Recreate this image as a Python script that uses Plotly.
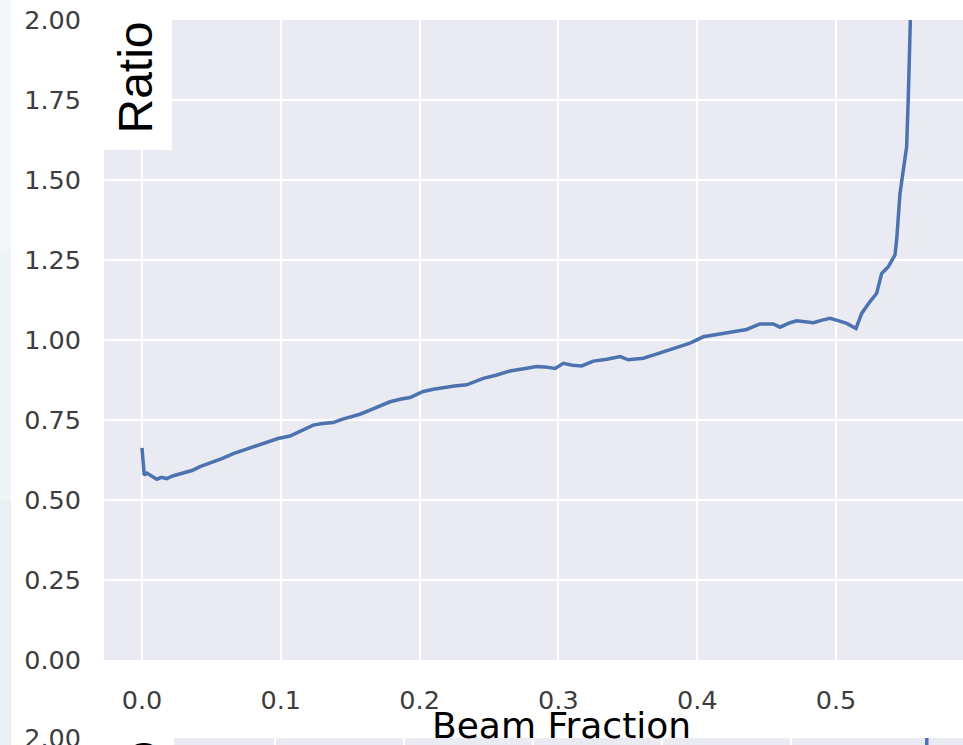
import plotly.graph_objects as go

# ---------------- data ----------------
beam_fraction = [
    0.0000, 0.0005, 0.0012, 0.0016, 0.0035, 0.0058, 0.0085, 0.0106, 0.0140, 0.0178,
    0.0220, 0.0260, 0.0298, 0.0360, 0.0418, 0.0520, 0.0580, 0.0658, 0.0780, 0.0898,
    0.0980, 0.1066, 0.1150, 0.1234, 0.1300, 0.1378, 0.1440, 0.1499, 0.1570, 0.1643,
    0.1720, 0.1787, 0.1860, 0.1931, 0.1980, 0.2027, 0.2100, 0.2171, 0.2250, 0.2339,
    0.2400, 0.2459, 0.2550, 0.2651, 0.2750, 0.2844, 0.2900, 0.2976, 0.3036, 0.3100,
    0.3168, 0.3252, 0.3350, 0.3444, 0.3504, 0.3612, 0.3700, 0.3804, 0.3880, 0.3948,
    0.4044, 0.4140, 0.4236, 0.4356, 0.4452, 0.4548, 0.4597, 0.4669, 0.4717, 0.4837,
    0.4900, 0.4957, 0.5020, 0.5077, 0.5144, 0.5185, 0.5245, 0.5293, 0.5329, 0.5377,
    0.5425, 0.5437, 0.5461, 0.5490, 0.5509, 0.5521, 0.5533, 0.5540, 0.5548,
]
ratio = [
    0.663, 0.640, 0.600, 0.578, 0.584, 0.578, 0.571, 0.565, 0.571, 0.567,
    0.575, 0.580, 0.586, 0.592, 0.604, 0.620, 0.630, 0.645, 0.663, 0.680,
    0.692, 0.700, 0.716, 0.734, 0.739, 0.742, 0.752, 0.758, 0.768, 0.781,
    0.796, 0.807, 0.815, 0.820, 0.830, 0.839, 0.846, 0.852, 0.856, 0.860,
    0.870, 0.880, 0.890, 0.903, 0.910, 0.917, 0.916, 0.911, 0.927, 0.921,
    0.919, 0.934, 0.940, 0.948, 0.938, 0.943, 0.955, 0.969, 0.980, 0.990,
    1.010, 1.017, 1.023, 1.033, 1.050, 1.050, 1.040, 1.054, 1.060, 1.054,
    1.062, 1.068, 1.060, 1.052, 1.036, 1.083, 1.120, 1.146, 1.208, 1.229,
    1.266, 1.3125, 1.458, 1.542, 1.604, 1.760, 1.906, 2.000, 2.200,
]

x_ticks = [0.0, 0.1, 0.2, 0.3, 0.4, 0.5]
x_tick_labels = ["0.0", "0.1", "0.2", "0.3", "0.4", "0.5"]
y_ticks = [0.0, 0.25, 0.5, 0.75, 1.0, 1.25, 1.5, 1.75, 2.0]
y_tick_labels = ["0.00", "0.25", "0.50", "0.75", "1.00", "1.25", "1.50", "1.75", "2.00"]

# lower (cropped) panel
lower_beam_fraction = [0.6050, 0.6056]
lower_ratio = [1.90, 2.10]
lower_y_ticks = [1.9999]
lower_y_tick_labels = ["2.00"]

# ---------------- layout helpers ----------------
W, H = 963, 745
def px(x):
    return x / W
def py(y):
    return (H - y) / H

BLUE = "#4C72B0"
BG = "#EAEAF2"
TICK_FONT = dict(family="DejaVu Sans", size=25.5, color="#3d3d3d")

fig = go.Figure()
fig.add_trace(go.Scatter(x=beam_fraction, y=ratio, mode="lines",
                         line=dict(color=BLUE, width=3.5), xaxis="x", yaxis="y",
                         showlegend=False, hoverinfo="skip"))
fig.add_trace(go.Scatter(x=lower_beam_fraction, y=lower_ratio, mode="lines",
                         line=dict(color=BLUE, width=3.5), xaxis="x2", yaxis="y2",
                         showlegend=False, hoverinfo="skip"))

axis_common = dict(showgrid=True, gridcolor="white", gridwidth=2, zeroline=False,
                   showline=False, ticks="", tickfont=TICK_FONT, automargin=False,
                   ticklabeloverflow="allow")

fig.update_layout(
    template="none",
    width=W, height=H, autosize=False,
    margin=dict(l=0, r=0, t=0, b=0, pad=0, autoexpand=False),
    paper_bgcolor="white", plot_bgcolor=BG,
    xaxis=dict(domain=[px(104), 1], range=[(104 - 142) / 1388, (963 - 142) / 1388],
               tickvals=x_ticks, ticktext=x_tick_labels, anchor="y",
               ticklabelstandoff=22, **axis_common),
    yaxis=dict(domain=[py(660), py(20)], range=[0, 2], tickvals=y_ticks,
               ticktext=y_tick_labels, anchor="x", ticklabelstandoff=22, **axis_common),
    xaxis2=dict(domain=[px(104), 1], range=[(104 - 146) / 1290, (963 - 146) / 1290],
                tickvals=x_ticks, showticklabels=False, anchor="y2", **axis_common),
    yaxis2=dict(domain=[0, py(738)], range=[2.0 - 7 / 320, 2.0], tickvals=lower_y_ticks,
                ticktext=lower_y_tick_labels, anchor="x2", ticklabelstandoff=22,
                **axis_common),
    shapes=[
        # white label boxes
        dict(type="rect", xref="paper", yref="paper", x0=px(104), x1=px(172),
             y0=py(150), y1=py(20), fillcolor="white", line=dict(width=0), layer="above"),
        dict(type="rect", xref="paper", yref="paper", x0=px(104), x1=px(174),
             y0=0, y1=py(738), fillcolor="white", line=dict(width=0), layer="above"),
        # left light strip
        dict(type="rect", xref="paper", yref="paper", x0=0, x1=px(11),
             y0=py(250), y1=1, fillcolor="#f3f7f9", line=dict(width=0), layer="below"),
        dict(type="rect", xref="paper", yref="paper", x0=0, x1=px(11),
             y0=py(500), y1=py(250), fillcolor="#eff5f7", line=dict(width=0), layer="below"),
        dict(type="rect", xref="paper", yref="paper", x0=0, x1=px(11),
             y0=0, y1=py(500), fillcolor="#e8f0f3", line=dict(width=0), layer="below"),
    ],
    annotations=[
        dict(text="Ratio", textangle=-90, xref="paper", yref="paper",
             x=px(135), y=py(77.5), xanchor="center", yanchor="middle", showarrow=False,
             font=dict(family="Liberation Sans", size=48, color="black")),
        dict(text="Ratio", textangle=-90, xref="paper", yref="paper",
             x=px(140), y=py(797), xanchor="center", yanchor="middle", showarrow=False,
             font=dict(family="Liberation Sans", size=48, color="black")),
        dict(text="Beam Fraction", xref="paper", yref="paper",
             x=px(561), y=py(725), xanchor="center", yanchor="middle", showarrow=False,
             font=dict(family="DejaVu Sans", size=36, color="black")),
    ],
)

fig.write_html("out.html")
